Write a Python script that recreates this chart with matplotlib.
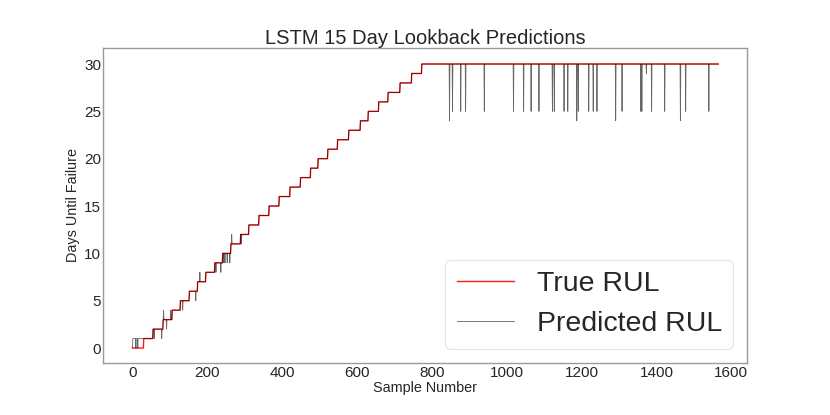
import matplotlib
matplotlib.use("Agg")
import matplotlib.pyplot as plt
import numpy as np

# ---- data ------------------------------------------------------------------
N_SAMPLES = 1566

# sample index where the true RUL steps up to level 1, 2, ..., 30
STEP_LEVELS = list(range(1, 31))
STEP_STARTS = [30, 55, 82, 106, 128, 152, 174, 196, 220, 241,
               263, 289, 311, 338, 365, 392, 421, 449, 476, 496,
               522, 548, 578, 609, 630, 658, 683, 715, 746, 773]

# predicted RUL departs from the true RUL on these [start, stop) ranges
SEG_START = [1, 10, 15, 58, 78, 83, 91, 102, 134, 169, 180, 223, 236,
             244, 247, 253, 260, 265, 291,
             847, 855, 877, 890, 940, 1018, 1045, 1065, 1086, 1122, 1127,
             1153, 1163, 1187, 1191, 1219, 1231, 1241, 1291, 1308, 1358,
             1361, 1373, 1387, 1422, 1464, 1478, 1540]
SEG_STOP = [9, 14, 30, 59, 79, 84, 92, 103, 135, 170, 181, 224, 237,
            245, 248, 254, 261, 266, 292,
            848, 856, 878, 891, 941, 1019, 1046, 1066, 1087, 1123, 1128,
            1154, 1164, 1188, 1192, 1220, 1232, 1242, 1292, 1309, 1359,
            1362, 1374, 1388, 1423, 1465, 1479, 1541]
SEG_VAL = [1, 1, 1, 1, 1, 4, 2, 4, 4, 5, 8, 8, 8,
           9, 9, 9, 9, 12, 11,
           24, 25, 25, 25, 25, 25, 25, 25, 25, 25, 25,
           25, 25, 24, 25, 25, 25, 25, 24, 25, 25,
           25, 29, 25, 25, 24, 25, 25]


def build_series():
    true_rul = np.zeros(N_SAMPLES)
    for start, level in zip(STEP_STARTS, STEP_LEVELS):
        true_rul[start:] = level
    pred_rul = true_rul.copy()
    for a, b, v in zip(SEG_START, SEG_STOP, SEG_VAL):
        pred_rul[a:b] = v
    return true_rul, pred_rul


def main():
    plt.rcParams.update({
        "font.family": ["Liberation Sans", "DejaVu Sans"],
        "text.color": "#262626",
        "axes.labelcolor": "#262626",
        "xtick.color": "#262626",
        "ytick.color": "#262626",
    })

    true_rul, pred_rul = build_series()
    x = np.arange(N_SAMPLES)

    fig = plt.figure(figsize=(8.3, 4.15), dpi=100)
    ax = fig.add_axes([0.1245, 0.1253, 0.776, 0.7597])

    ax.plot(x, true_rul, color="#ff1a1a", lw=1.0, label="True RUL")
    ax.plot(x, pred_rul, color="black", lw=0.6, alpha=0.6, label="Predicted RUL")

    ax.set_xlim(-78, 1643)
    ax.set_ylim(-1.58, 31.72)
    ax.set_xticks([0, 200, 400, 600, 800, 1000, 1200, 1400, 1600])
    ax.set_yticks([0, 5, 10, 15, 20, 25, 30])
    ax.tick_params(length=0, labelsize=11)
    ax.tick_params(axis="y", pad=1.5)
    ax.tick_params(axis="x", pad=2)

    for sp in ax.spines.values():
        sp.set_color("#9a9a9a")
        sp.set_linewidth(1.0)

    ax.set_title("LSTM 15 Day Lookback Predictions", fontsize=14.5, pad=0.5)
    ax.set_xlabel("Sample Number", fontsize=10.4, labelpad=1)
    ax.set_ylabel("Days Until Failure", fontsize=10.4, labelpad=3)

    leg = ax.legend(loc="lower right", fontsize=20.5, frameon=True, fancybox=True)
    leg.get_frame().set_edgecolor("#dddddd")
    leg.get_frame().set_linewidth(0.8)

    fig.savefig("out.png", dpi=100)
    plt.close(fig)


if __name__ == "__main__":
    main()
